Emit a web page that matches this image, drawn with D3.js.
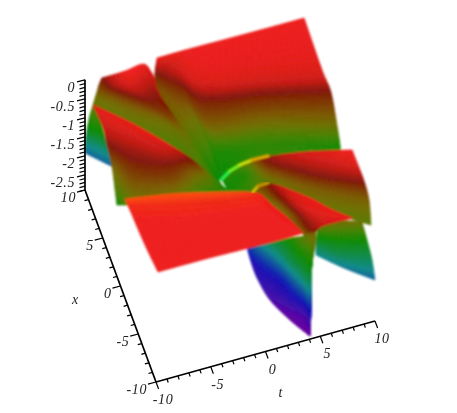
<!DOCTYPE html>
<html>
<head>
<meta charset="utf-8">
<script src="https://cdn.jsdelivr.net/npm/d3@7"></script>
<style>
  html, body { margin: 0; background: #fff; }
  text { font-family: "Liberation Serif", serif; font-style: italic; font-size: 14px; fill: #222; }
</style>
</head>
<body>
<div id="root"></div>
<script>
var width = 457;
var height = 413;

// surface, sheet by sheet, back to front
// every rib is a list of [t, x, z]
var wedgeLeft = [
  [[-9.04,10.44,-0.8],[-9.5,10.13,-1],[-9.92,9.69,-1.25],[-10,9.85,-1.6],[-10.03,9.9,-1.9]],
  [[-9.04,10.44,-0.8],[-8.82,9.4,-1],[-8.67,8.46,-1.25],[-8.36,8.29,-1.6],[-8.14,7.85,-1.9]]
];
var sheetRearLeft = [
  [[-8.08,11.16,-0.4],[-8.31,11.29,-0.6],[-8.57,11.04,-0.7],[-8.8,10.88,-0.8],[-9.18,10.27,-0.8]],
  [[-6.42,9.77,0],[-6.51,8.94,-0.15],[-6.3,9.01,-0.5],[-6.25,8.62,-0.75],[-6.51,7.22,-0.9]],
  [[-4.71,9.96,0],[-4.36,8.53,-0.35],[-4.08,7.15,-0.55],[-3.83,6.5,-0.8],[-4.26,4.31,-0.95]],
  [[-4.18,9.36,-0.1],[-3.89,7.74,-0.4],[-3.38,6.5,-0.6],[-3.11,5.62,-0.82],[-3.27,4,-0.95]],
  [[-3.76,8.15,-0.25],[-3.31,6.72,-0.45],[-2.7,5.75,-0.7],[-2.49,4.71,-0.85],[-2.57,2.21,-0.95]],
  [[-1.87,4.64,-0.7],[-1.73,3.96,-0.8],[-1.58,3.57,-0.9],[-1.43,2.36,-1],[-1.55,0.85,-1]],
  [[-0.65,0.83,-1.15],[-0.63,0.62,-1.15],[-0.58,0.45,-1.15],[-0.55,0.27,-1.15],[-0.68,-0.7,-1.15]]
];
var sheetRearRight = [
  [[-3.37,10.16,0],[-3.51,10.31,-0.5],[-3.39,9.29,-0.7],[-2.53,6.29,-0.8],[-1.55,3.65,-1],[-0.66,1.35,-1.2]],
  [[-1.46,10.18,0],[-1.93,9.25,-0.2],[-1.77,8.63,-0.45],[-1.35,7.08,-0.7],[-0.55,4.49,-0.95],[-0.27,1.43,-1.2]],
  [[0.56,10.16,0],[-0.13,7.23,-0.1],[-0.08,6.52,-0.45],[-0.09,4.79,-0.75],[0.08,3.63,-1.1],[-0.11,1.38,-1.2]],
  [[6.01,10.09,0],[4.92,6.16,-0.1],[4.88,5.47,-0.45],[4.53,3.84,-0.8],[4.38,2.8,-1.05],[3.92,1.39,-1]],
  [[10.03,10.07,0],[10.04,5.05,-0.1],[10.51,3.99,-0.45],[10.41,1.98,-0.8],[10.4,1.09,-1.1],[10.24,0.6,-1.15]]
];
var sheetMiddle = [
  [[-10.05,7.58,-0.05],[-9.73,5.79,-0.2],[-9.65,4.87,-0.45],[-9.56,3.74,-0.75],[-9.78,2.21,-0.95],[-9.85,1.46,-1.15]],
  [[-7.57,4.83,0],[-7.79,4.14,-0.15],[-7.85,3.39,-0.35],[-8.07,2.16,-0.55],[-8.42,1.08,-0.72],[-8.71,-0.09,-0.85]],
  [[-5.22,2.2,-0.05],[-5.29,1.98,-0.2],[-5.21,1.38,-0.45],[-5.27,0.65,-0.6],[-5.3,0,-0.75],[-5.64,-1.06,-0.85]],
  [[-2.99,1.2,-0.45],[-2.95,1.05,-0.6],[-2.86,0.78,-0.75],[-2.82,0.33,-0.85],[-2.74,-0.02,-0.95],[-3.09,-1.08,-1.05]],
  [[-1.2,0.52,-0.95],[-1.18,0.3,-1],[-1.22,-0.1,-1],[-1.2,-0.32,-1.05],[-1.29,-0.61,-1.1],[-1.54,-1.37,-1.1]],
  [[-0.2,-0.04,-1.15],[-0.29,-0.33,-1.15],[-0.38,-0.61,-1.15],[-0.47,-0.89,-1.15],[-0.56,-1.18,-1.15],[-0.66,-1.46,-1.15]]
];
var sheetArc = [
  [[-0.38,1.06,-1.15],[-0.29,0.51,-1.15],[-0.2,-0.04,-1.15],[-0.18,-0.57,-1.15],[-0.17,-1.09,-1.15]],
  [[1.53,1.04,-0.85],[1.72,0.83,-1.05],[1.65,0.02,-1.05],[1.68,-1.02,-1],[1.5,-2.42,-0.95]],
  [[3.17,-0.64,-0.4],[3.29,-1.12,-0.5],[3.47,-1.42,-0.7],[3.51,-1.87,-0.8],[3.28,-3.37,-0.85]],
  [[6.12,-2.24,-0.1],[6.24,-2.73,-0.25],[6.4,-3.35,-0.45],[6.57,-3.97,-0.7],[6.46,-5.43,-0.85]],
  [[9.96,-3.65,0],[10.11,-4.87,-0.1],[10.47,-5.46,-0.4],[10.65,-6.31,-0.7],[10.28,-8.01,-0.9]]
];
var sheetLowerRight = [
  [[5.75,-7.06,-0.8],[5.73,-6.81,-1.1],[5.7,-6.65,-1.4],[5.74,-6.52,-1.7]],
  [[7.67,-7.35,-0.75],[7.63,-7.73,-1.15],[7.6,-8.1,-1.45],[7.78,-8.13,-1.8]],
  [[9.51,-7.84,-0.8],[9.78,-8.41,-1.15],[9.99,-9.18,-1.5],[10.09,-9.71,-1.9]]
];
var sheetLump = [
  [[3.09,-5.13,-0.05],[2.7,-3.5,-0.35],[2.1,-2.53,-0.6],[1.63,-2.29,-0.7],[1.37,-2.23,-0.8]],
  [[5.01,-7.07,0],[4.15,-6.93,-0.1],[3.77,-6.14,-0.4],[3.41,-5.26,-0.7],[2.9,-5.13,-0.85]],
  [[6.55,-8.82,0],[5.76,-9.01,-0.1],[5.03,-8.71,-0.3],[4.45,-8.24,-0.45],[4.05,-7.24,-0.75]],
  [[8.01,-9.92,-0.05],[6.55,-9.67,-0.1],[5.38,-9.32,-0.2],[4.97,-8.63,-0.5],[4.3,-7.85,-0.8]]
];
var sheetWall = [
  [[0.83,-2.25,-2.2],[1.01,-3.09,-2.45],[1.11,-4.49,-2.5],[1.72,-5.97,-2.7],[2.94,-7.85,-2.85],[4.16,-9.7,-2.9]],
  [[1.9,-4.84,-1.5],[2.26,-5.15,-1.95],[2.69,-5.79,-2.3],[2.97,-7.17,-2.5],[3.62,-8.26,-2.8],[4.16,-9.7,-2.9]],
  [[3.41,-6.39,-1.1],[3.25,-7.44,-1.4],[3.52,-8.02,-1.8],[3.85,-8.41,-2.2],[4.12,-8.69,-2.6],[4.16,-9.7,-2.9]],
  [[4.34,-7.46,-0.85],[4.18,-8.52,-1.15],[4.11,-9.59,-1.4],[4.13,-9.78,-1.8],[4.22,-9.51,-2.4],[4.16,-9.7,-2.9]],
  [[5.28,-7.93,-0.7],[4.98,-8.6,-0.85],[4.56,-9.05,-1.15],[4.33,-9.47,-1.5],[4.38,-9.31,-2.2],[4.16,-9.7,-2.9]]
];
var sheetFront = [
  [[-10.51,-2.85,0.15],[-10.28,-4.1,0.03],[-10.09,-7.17,0],[-9.84,-10.07,0]],
  [[-6.63,-3.56,0.15],[-6.31,-5.36,0.03],[-6.05,-7.42,0],[-6.19,-10.08,0]],
  [[-2.84,-4.56,0.15],[-2.67,-6,0.03],[-2.36,-7.86,0],[-1.93,-10.18,0]],
  [[0.09,-5.37,0.12],[0.46,-6.48,0.03],[1.09,-7.91,0],[1.24,-10.26,0]],
  [[1.07,-5.71,0.05],[1.65,-6.74,0],[2.58,-8.39,0],[3.36,-10.2,0]]
];
var sheets = [wedgeLeft, sheetRearLeft, sheetRearRight, sheetMiddle, sheetArc,
  sheetLowerRight, sheetLump, sheetWall, sheetFront];

// bright lines along the arc and the crown of the lump
var glintLine = [[-0.35,1.15,-1.15],[0.49,1.52,-1.1],[1.27,1.11,-0.9],[2.07,0.18,-0.6],[3.29,-0.58,-0.4]];
var glintColors = ["#28f048", "#70f020", "#c8e010", "#d8a800"];
var crownLine = [[1.28,-2.5,-0.7],[1.89,-2.07,-0.7],[2.69,-2.41,-0.6]];
var crownColors = ["#d8c000", "#c89000"];

var axisTicks = [-10, -5, 0, 5, 10];
var zLabels = [0, -0.5, -1, -1.5, -2, -2.5];

// colours by height
var zStops = [0.15, 0.08, 0, -0.25, -0.45, -0.7, -0.8, -0.95, -1.15, -1.7, -2.3, -2.9];
var zColors = ["#ff5010", "#f22a18", "#ee1c1c", "#c01a12", "#801808", "#7a5a00", "#6e7000", "#4a8000",
  "#128a00", "#0a8a8a", "#1414b4", "#6a00a0"];
var colorScale = d3.scaleLinear().domain(zStops).range(zColors).clamp(true);

// the view is a plain shear, so each data axis gets its own x and y scale
var originX = 230;
var originY = 145.3;
var tToX = d3.scaleLinear().domain([-10, 10]).range([-109.5, 109.5]);
var tToY = d3.scaleLinear().domain([-10, 10]).range([30.5, -30.5]);
var xToX = d3.scaleLinear().domain([-10, 10]).range([35.5, -35.5]);
var xToY = d3.scaleLinear().domain([-10, 10]).range([96, -96]);
var zToY = d3.scaleLinear().domain([0, -2.9]).range([0, 110.2]);

function screenX(t, x) {
  return originX + tToX(t) + xToX(x);
}
function screenY(t, x, z) {
  return originY + tToY(t) + xToY(x) + zToY(z);
}

var svg = d3
  .select("#root")
  .append("svg")
  .attr("width", width)
  .attr("height", height)
  .style("display", "block");

var defs = svg.append("defs");
defs.append("filter").attr("id", "soft").append("feGaussianBlur").attr("stdDeviation", 0.8);
defs.append("filter").attr("id", "softer").append("feGaussianBlur").attr("stdDeviation", 1.1);
defs.append("filter").attr("id", "textSoft").append("feGaussianBlur").attr("stdDeviation", 0.4);

// smooth pass through the rib values
function catmull(vals, u) {
  var n = vals.length - 1;
  var i = Math.min(Math.floor(u * n), n - 1);
  var f = u * n - i;
  var a = vals[Math.max(i - 1, 0)];
  var b = vals[i];
  var c = vals[i + 1];
  var d = vals[Math.min(i + 2, n)];
  return (
    b +
    0.5 * f * (c - a + f * (2 * a - 5 * b + 4 * c - d + f * (3 * (b - c) + d - a)))
  );
}

function sheetPoint(ribs, u, v) {
  var p = [0, 1, 2].map((k) =>
    catmull(ribs.map((r) => catmull(r.map((q) => q[k]), v)), u)
  );
  return p;
}

var surface = svg.append("g").attr("filter", "url(#soft)");
var steps = 10;

sheets.forEach((ribs) => {
  var nu = (ribs.length - 1) * steps;
  var nv = (ribs[0].length - 1) * steps;
  var cells = [];
  for (var i = 0; i < nu; i++) {
    for (var j = 0; j < nv; j++) {
      var corners = [
        sheetPoint(ribs, i / nu, j / nv),
        sheetPoint(ribs, (i + 1) / nu, j / nv),
        sheetPoint(ribs, (i + 1) / nu, (j + 1) / nv),
        sheetPoint(ribs, i / nu, (j + 1) / nv),
      ];
      cells.push(corners);
    }
  }
  surface
    .append("g")
    .selectAll("path")
    .data(cells)
    .enter()
    .append("path")
    .attr("d", (c) =>
      d3.line()(c.map((p) => [screenX(p[0], p[1]), screenY(p[0], p[1], p[2])])) + "Z"
    )
    .attr("fill", (c) => colorScale(d3.mean(c, (p) => p[2])))
    .attr("stroke", (c) => colorScale(d3.mean(c, (p) => p[2])))
    .attr("stroke-width", 0.7);
});

// glints
function glint(points, colors, w) {
  svg
    .append("g")
    .attr("filter", "url(#softer)")
    .selectAll("line")
    .data(d3.pairs(points))
    .enter()
    .append("line")
    .attr("x1", (d) => screenX(d[0][0], d[0][1]))
    .attr("y1", (d) => screenY(d[0][0], d[0][1], d[0][2]))
    .attr("x2", (d) => screenX(d[1][0], d[1][1]))
    .attr("y2", (d) => screenY(d[1][0], d[1][1], d[1][2]))
    .attr("stroke", (d, i) => colors[i])
    .attr("stroke-width", w)
    .attr("stroke-linecap", "round");
}
glint(glintLine, glintColors, 3.5);
glint(crownLine, crownColors, 3);

// axes
var axes = svg.append("g").attr("filter", "url(#textSoft)");
var floorZ = -2.9;

function segment(x1, y1, x2, y2, w) {
  axes
    .append("line")
    .attr("x1", x1)
    .attr("y1", y1)
    .attr("x2", x2)
    .attr("y2", y2)
    .attr("stroke", "#000")
    .attr("stroke-width", w);
}

// t axis along x = -10
segment(screenX(-10, -10), screenY(-10, -10, floorZ), screenX(10, -10), screenY(10, -10, floorZ), 1.7);
d3.range(-10, 10.5, 1).forEach((t) => {
  var major = t % 5 === 0;
  var px = screenX(t, -10);
  var py = screenY(t, -10, floorZ);
  segment(px, py, px + (major ? 2.6 : 1.3), py + (major ? 7 : 3.6), 1.2);
});

// x axis along t = -10
segment(screenX(-10, -10), screenY(-10, -10, floorZ), screenX(-10, 10), screenY(-10, 10, floorZ), 1.7);
d3.range(-10, 10.5, 1).forEach((x) => {
  var major = x % 5 === 0;
  var px = screenX(-10, x);
  var py = screenY(-10, x, floorZ);
  segment(px, py, px - (major ? 8 : 4), py + (major ? 2.2 : 1.1), 1.2);
});

// z axis at the back corner
segment(screenX(-10, 10), screenY(-10, 10, 0), screenX(-10, 10), screenY(-10, 10, floorZ), 1.7);
d3.range(0, 2.95, 0.1).forEach((d, i) => {
  var major = i % 5 === 0;
  var px = screenX(-10, 10);
  var py = screenY(-10, 10, -d);
  segment(px, py, px - (major ? 8 : 5.5), py + (major ? 2 : 1.4), 1.2);
});

function label(px, py, anchor, txt) {
  axes
    .append("text")
    .attr("x", px)
    .attr("y", py)
    .attr("text-anchor", anchor)
    .style("letter-spacing", "0.6px")
    .text(txt);
}

axisTicks.forEach((t) => {
  label(screenX(t, -10) + 7, screenY(t, -10, floorZ) + 22, "middle", String(t));
  label(screenX(-10, t) - 9, screenY(-10, t, floorZ) + 12, "end", String(t));
});
zLabels.forEach((z) => {
  label(screenX(-10, 10) - 10, screenY(-10, 10, z) + 12, "end", String(z));
});
label(screenX(1.4, -10) + 0, screenY(1.4, -10, floorZ) + 50, "middle", "t");
label(screenX(-10, 0) - 45, screenY(-10, 0, floorZ) + 18, "middle", "x");
</script>
</body>
</html>
